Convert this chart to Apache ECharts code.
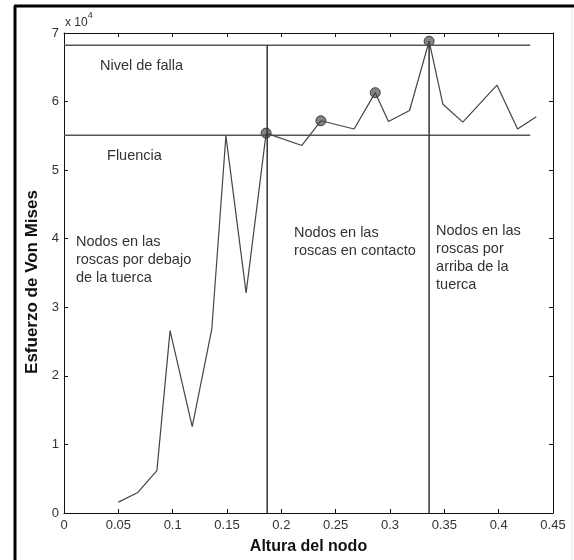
<!DOCTYPE html>
<html>
<head>
<meta charset="utf-8">
<script src="https://cdn.jsdelivr.net/npm/echarts@6/dist/echarts.min.js"></script>
<style>
  html, body { margin: 0; padding: 0; background: #fff; }
  #chart { width: 574px; height: 560px; }
</style>
</head>
<body>
<div id="chart"></div>
<script>
// ticks
const xTicks = ['0', '0.05', '0.1', '0.15', '0.2', '0.25', '0.3', '0.35', '0.4', '0.45']
const yTicks = ['0', '1', '2', '3', '4', '5', '6', '7']

// curve: altura del nodo vs esfuerzo de Von Mises
const altura = [0.05, 0.068, 0.0855, 0.0976, 0.118, 0.136, 0.149, 0.1676, 0.186, 0.2189, 0.2364,
  0.267, 0.2864, 0.2986, 0.318, 0.336, 0.3487, 0.367, 0.3984, 0.4174, 0.4346]
const esfuerzo = [1590, 3000, 6180, 26600, 12600, 26800, 55000, 32100, 55400, 53600, 57200,
  56000, 61300, 57100, 58700, 68800, 59600, 57000, 62400, 56000, 57800]
const marcados = [8, 10, 12, 15]

// reference levels
const nivelFalla = 68200
const fluencia = 55100
const finNiveles = 0.429
const divisiones = [0.187, 0.336]
const topeDivisiones = [nivelFalla, 68800]

// annotations (data coords of the top-left corner)
const notas = [
  { text: 'Nivel de falla', x: 0.0331, y: 66500 },
  { text: 'Fluencia', x: 0.0396, y: 53400 },
  { text: 'Nodos en las\nroscas por debajo\nde la tuerca', x: 0.011, y: 40900 },
  { text: 'Nodos en las\nroscas en contacto', x: 0.2117, y: 42100 },
  { text: 'Nodos en las\nroscas por\narriba de la\ntuerca', x: 0.3424, y: 42500 }
]

const FONT = '"Liberation Sans", Arial, sans-serif'
const chart = echarts.init(document.getElementById('chart'))

const tickFmtX = v => xTicks[Math.round(v / 0.05)] ?? ''
const tickFmtY = v => yTicks[Math.round(v / 10000)] ?? ''

const lineSeries = (data, color, width) => ({
  type: 'line',
  data,
  symbol: 'none',
  silent: true,
  lineStyle: { color, width },
  animation: false
})

const baseX = {
  type: 'value',
  min: 0,
  max: 0.45,
  interval: 0.05,
  splitLine: { show: false },
  axisLine: { show: true, onZero: false, lineStyle: { color: '#111', width: 1 } },
  axisTick: { show: true, inside: true, length: 4, lineStyle: { color: '#111' } }
}
const baseY = {
  type: 'value',
  min: 0,
  max: 70000,
  interval: 10000,
  splitLine: { show: false },
  axisLine: { show: true, onZero: false, lineStyle: { color: '#111', width: 1 } },
  axisTick: { show: true, inside: true, length: 4, lineStyle: { color: '#111' } }
}

chart.setOption({
  animation: false,
  backgroundColor: '#fff',
  grid: { left: 64, right: 21, top: 33, bottom: 43 },
  xAxis: [
    {
      ...baseX,
      position: 'bottom',
      name: 'Altura del nodo',
      nameLocation: 'middle',
      nameGap: 26,
      nameTextStyle: { fontFamily: FONT, fontSize: 16, fontWeight: 'bold', color: '#111', verticalAlign: 'top' },
      axisLabel: { formatter: tickFmtX, fontFamily: FONT, fontSize: 13, color: '#333', margin: 6 }
    },
    { ...baseX, position: 'top', axisLabel: { show: false } }
  ],
  yAxis: [
    {
      ...baseY,
      position: 'left',
      name: 'Esfuerzo de Von Mises',
      nameLocation: 'middle',
      nameGap: 22,
      nameTextStyle: { fontFamily: FONT, fontSize: 17, fontWeight: 'bold', color: '#111', padding: [0, 18, 0, 0] },
      axisLabel: { formatter: tickFmtY, fontFamily: FONT, fontSize: 13, color: '#333', margin: 5 }
    },
    { ...baseY, position: 'right', axisLabel: { show: false } }
  ],
  series: [
    lineSeries([[0, nivelFalla], [finNiveles, nivelFalla]], '#555', 1.5),
    lineSeries([[0, fluencia], [finNiveles, fluencia]], '#555', 1.5),
    ...divisiones.map((x, i) => lineSeries([[x, topeDivisiones[i]], [x, 0]], '#333', 1.5)),
    lineSeries(altura.map((x, i) => [x, esfuerzo[i]]), '#444', 1.2),
    {
      type: 'scatter',
      data: marcados.map(i => [altura[i], esfuerzo[i]]),
      symbol: 'circle',
      symbolSize: 10,
      itemStyle: { color: '#666', borderColor: '#222', borderWidth: 1 },
      silent: true
    }
  ]
})

// annotation texts placed from data coords
const texts = notas.map(n => {
  const [px, py] = chart.convertToPixel({ gridIndex: 0 }, [n.x, n.y])
  return {
    type: 'text',
    left: px,
    top: py,
    style: { text: n.text, font: '14.5px ' + FONT, fill: '#333', lineHeight: 18 }
  }
})

chart.setOption({
  graphic: [
    ...texts,
    {
      type: 'text',
      left: 65,
      top: 11,
      style: {
        text: '{a|x 10}{b|4}',
        rich: {
          a: { font: '12px ' + FONT, fill: '#333', padding: [6, 0, 0, 0] },
          b: { font: '9px ' + FONT, fill: '#333', verticalAlign: 'top' }
        }
      }
    },
    // outer frame (left and top edges of the figure box)
    { type: 'line', shape: { x1: 15, y1: 6, x2: 15, y2: 560 }, style: { stroke: '#000', lineWidth: 3 } },
    { type: 'line', shape: { x1: 14, y1: 6, x2: 574, y2: 6 }, style: { stroke: '#000', lineWidth: 3 } },
    { type: 'line', shape: { x1: 572, y1: 9, x2: 572, y2: 560 }, style: { stroke: '#e4e4e4', lineWidth: 1 } }
  ]
})
</script>
</body>
</html>
